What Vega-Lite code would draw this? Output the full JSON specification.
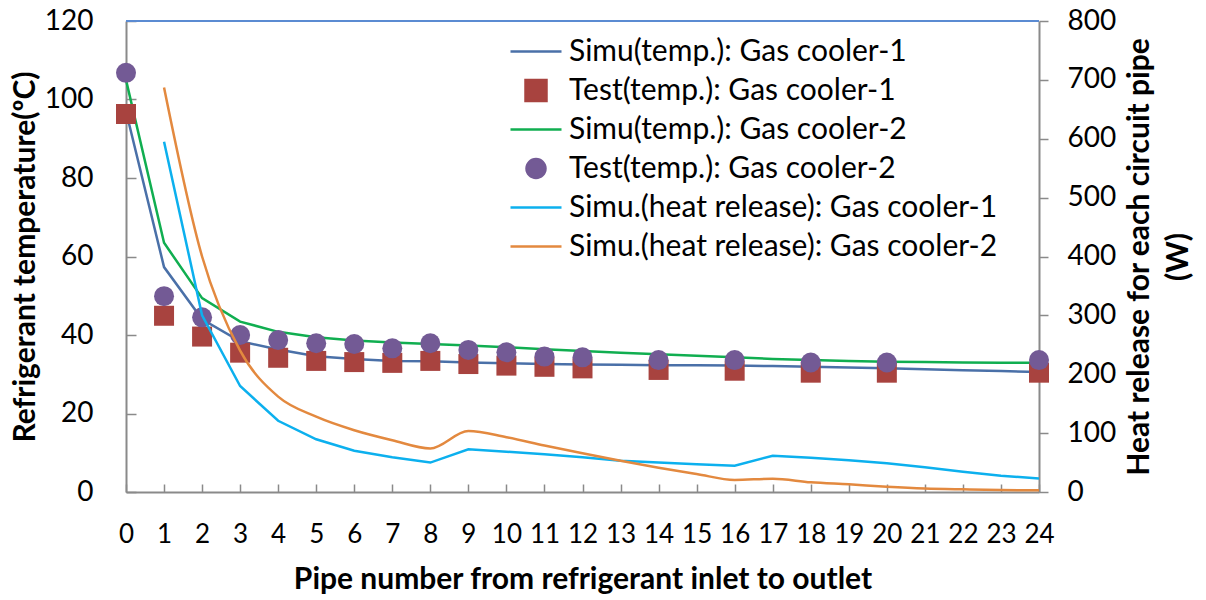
{
  "$schema": "https://vega.github.io/schema/vega-lite/v6.json",
  "autosize": {"type": "none"},
  "padding": {"left": 126, "top": 21, "right": 167, "bottom": 108},
  "width": 913,
  "height": 471,
  "background": "white",
  "config": {
    "view": {"stroke": null},
    "font": "Lato",
    "axis": {
      "domainColor": "#8a8a8a", "domainWidth": 2, "tickColor": "#8a8a8a", "tickWidth": 1.5,
      "labelFont": "Lato", "labelFontSize": 28, "labelColor": "#000000",
      "titleFont": "Lato", "titleFontSize": 30, "titleFontWeight": "bold", "titleColor": "#000000",
      "grid": false
    }
  },
  "datasets": {
    "topline": [{"x": 0, "x2": 24, "v": 120}],
    "simuT": [
      {"x": 0, "series": "Simu(temp.): Gas cooler-1", "v": 97},
      {"x": 1, "series": "Simu(temp.): Gas cooler-1", "v": 57.3},
      {"x": 2, "series": "Simu(temp.): Gas cooler-1", "v": 44},
      {"x": 3, "series": "Simu(temp.): Gas cooler-1", "v": 38.4},
      {"x": 4, "series": "Simu(temp.): Gas cooler-1", "v": 36.3},
      {"x": 5, "series": "Simu(temp.): Gas cooler-1", "v": 34.6},
      {"x": 6, "series": "Simu(temp.): Gas cooler-1", "v": 33.9},
      {"x": 7, "series": "Simu(temp.): Gas cooler-1", "v": 33.4},
      {"x": 8, "series": "Simu(temp.): Gas cooler-1", "v": 33.3},
      {"x": 9, "series": "Simu(temp.): Gas cooler-1", "v": 33.0},
      {"x": 10, "series": "Simu(temp.): Gas cooler-1", "v": 32.8},
      {"x": 11, "series": "Simu(temp.): Gas cooler-1", "v": 32.6},
      {"x": 12, "series": "Simu(temp.): Gas cooler-1", "v": 32.5},
      {"x": 13, "series": "Simu(temp.): Gas cooler-1", "v": 32.4},
      {"x": 14, "series": "Simu(temp.): Gas cooler-1", "v": 32.3},
      {"x": 15, "series": "Simu(temp.): Gas cooler-1", "v": 32.3},
      {"x": 16, "series": "Simu(temp.): Gas cooler-1", "v": 32.2},
      {"x": 17, "series": "Simu(temp.): Gas cooler-1", "v": 32.1},
      {"x": 18, "series": "Simu(temp.): Gas cooler-1", "v": 31.9},
      {"x": 19, "series": "Simu(temp.): Gas cooler-1", "v": 31.7},
      {"x": 20, "series": "Simu(temp.): Gas cooler-1", "v": 31.5},
      {"x": 21, "series": "Simu(temp.): Gas cooler-1", "v": 31.3},
      {"x": 22, "series": "Simu(temp.): Gas cooler-1", "v": 31.0},
      {"x": 23, "series": "Simu(temp.): Gas cooler-1", "v": 30.8},
      {"x": 24, "series": "Simu(temp.): Gas cooler-1", "v": 30.6},
      {"x": 0, "series": "Simu(temp.): Gas cooler-2", "v": 105},
      {"x": 1, "series": "Simu(temp.): Gas cooler-2", "v": 63.5},
      {"x": 2, "series": "Simu(temp.): Gas cooler-2", "v": 49.4},
      {"x": 3, "series": "Simu(temp.): Gas cooler-2", "v": 43.4},
      {"x": 4, "series": "Simu(temp.): Gas cooler-2", "v": 40.8},
      {"x": 5, "series": "Simu(temp.): Gas cooler-2", "v": 39.4},
      {"x": 6, "series": "Simu(temp.): Gas cooler-2", "v": 38.6},
      {"x": 7, "series": "Simu(temp.): Gas cooler-2", "v": 38.1},
      {"x": 8, "series": "Simu(temp.): Gas cooler-2", "v": 37.7},
      {"x": 9, "series": "Simu(temp.): Gas cooler-2", "v": 37.3},
      {"x": 10, "series": "Simu(temp.): Gas cooler-2", "v": 36.9},
      {"x": 11, "series": "Simu(temp.): Gas cooler-2", "v": 36.4},
      {"x": 12, "series": "Simu(temp.): Gas cooler-2", "v": 35.9},
      {"x": 13, "series": "Simu(temp.): Gas cooler-2", "v": 35.5},
      {"x": 14, "series": "Simu(temp.): Gas cooler-2", "v": 35.1},
      {"x": 15, "series": "Simu(temp.): Gas cooler-2", "v": 34.7},
      {"x": 16, "series": "Simu(temp.): Gas cooler-2", "v": 34.3},
      {"x": 17, "series": "Simu(temp.): Gas cooler-2", "v": 33.9},
      {"x": 18, "series": "Simu(temp.): Gas cooler-2", "v": 33.6},
      {"x": 19, "series": "Simu(temp.): Gas cooler-2", "v": 33.4},
      {"x": 20, "series": "Simu(temp.): Gas cooler-2", "v": 33.2},
      {"x": 21, "series": "Simu(temp.): Gas cooler-2", "v": 33.1},
      {"x": 22, "series": "Simu(temp.): Gas cooler-2", "v": 33.0},
      {"x": 23, "series": "Simu(temp.): Gas cooler-2", "v": 32.9},
      {"x": 24, "series": "Simu(temp.): Gas cooler-2", "v": 32.9}
    ],
    "testT": [
      {"x": 0, "series": "Test(temp.): Gas cooler-1", "v": 96.3},
      {"x": 1, "series": "Test(temp.): Gas cooler-1", "v": 44.9},
      {"x": 2, "series": "Test(temp.): Gas cooler-1", "v": 39.6},
      {"x": 3, "series": "Test(temp.): Gas cooler-1", "v": 35.5},
      {"x": 4, "series": "Test(temp.): Gas cooler-1", "v": 34.2},
      {"x": 5, "series": "Test(temp.): Gas cooler-1", "v": 33.4},
      {"x": 6, "series": "Test(temp.): Gas cooler-1", "v": 33.1},
      {"x": 7, "series": "Test(temp.): Gas cooler-1", "v": 32.9},
      {"x": 8, "series": "Test(temp.): Gas cooler-1", "v": 33.4},
      {"x": 9, "series": "Test(temp.): Gas cooler-1", "v": 32.6},
      {"x": 10, "series": "Test(temp.): Gas cooler-1", "v": 32.2},
      {"x": 11, "series": "Test(temp.): Gas cooler-1", "v": 31.9},
      {"x": 12, "series": "Test(temp.): Gas cooler-1", "v": 31.5},
      {"x": 14, "series": "Test(temp.): Gas cooler-1", "v": 31.1},
      {"x": 16, "series": "Test(temp.): Gas cooler-1", "v": 30.9},
      {"x": 18, "series": "Test(temp.): Gas cooler-1", "v": 30.4},
      {"x": 20, "series": "Test(temp.): Gas cooler-1", "v": 30.4},
      {"x": 24, "series": "Test(temp.): Gas cooler-1", "v": 30.4},
      {"x": 0, "series": "Test(temp.): Gas cooler-2", "v": 106.8},
      {"x": 1, "series": "Test(temp.): Gas cooler-2", "v": 49.9},
      {"x": 2, "series": "Test(temp.): Gas cooler-2", "v": 44.5},
      {"x": 3, "series": "Test(temp.): Gas cooler-2", "v": 40.0},
      {"x": 4, "series": "Test(temp.): Gas cooler-2", "v": 38.7},
      {"x": 5, "series": "Test(temp.): Gas cooler-2", "v": 37.9},
      {"x": 6, "series": "Test(temp.): Gas cooler-2", "v": 37.7},
      {"x": 7, "series": "Test(temp.): Gas cooler-2", "v": 36.6},
      {"x": 8, "series": "Test(temp.): Gas cooler-2", "v": 37.9},
      {"x": 9, "series": "Test(temp.): Gas cooler-2", "v": 36.2},
      {"x": 10, "series": "Test(temp.): Gas cooler-2", "v": 35.6},
      {"x": 11, "series": "Test(temp.): Gas cooler-2", "v": 34.5},
      {"x": 12, "series": "Test(temp.): Gas cooler-2", "v": 34.3},
      {"x": 14, "series": "Test(temp.): Gas cooler-2", "v": 33.6},
      {"x": 16, "series": "Test(temp.): Gas cooler-2", "v": 33.6},
      {"x": 18, "series": "Test(temp.): Gas cooler-2", "v": 33.0},
      {"x": 20, "series": "Test(temp.): Gas cooler-2", "v": 33.0},
      {"x": 24, "series": "Test(temp.): Gas cooler-2", "v": 33.6}
    ],
    "heat1": [
      {"x": 1, "series": "Simu.(heat release): Gas cooler-1", "v": 595},
      {"x": 2, "series": "Simu.(heat release): Gas cooler-1", "v": 300},
      {"x": 3, "series": "Simu.(heat release): Gas cooler-1", "v": 180},
      {"x": 4, "series": "Simu.(heat release): Gas cooler-1", "v": 121},
      {"x": 5, "series": "Simu.(heat release): Gas cooler-1", "v": 89.5},
      {"x": 6, "series": "Simu.(heat release): Gas cooler-1", "v": 70},
      {"x": 7, "series": "Simu.(heat release): Gas cooler-1", "v": 59},
      {"x": 8, "series": "Simu.(heat release): Gas cooler-1", "v": 50},
      {"x": 9, "series": "Simu.(heat release): Gas cooler-1", "v": 72.5},
      {"x": 10, "series": "Simu.(heat release): Gas cooler-1", "v": 68.5},
      {"x": 11, "series": "Simu.(heat release): Gas cooler-1", "v": 64},
      {"x": 12, "series": "Simu.(heat release): Gas cooler-1", "v": 59},
      {"x": 13, "series": "Simu.(heat release): Gas cooler-1", "v": 53},
      {"x": 14, "series": "Simu.(heat release): Gas cooler-1", "v": 50},
      {"x": 15, "series": "Simu.(heat release): Gas cooler-1", "v": 47},
      {"x": 16, "series": "Simu.(heat release): Gas cooler-1", "v": 44.7},
      {"x": 17, "series": "Simu.(heat release): Gas cooler-1", "v": 61.7},
      {"x": 18, "series": "Simu.(heat release): Gas cooler-1", "v": 58.3},
      {"x": 19, "series": "Simu.(heat release): Gas cooler-1", "v": 54},
      {"x": 20, "series": "Simu.(heat release): Gas cooler-1", "v": 48.7},
      {"x": 21, "series": "Simu.(heat release): Gas cooler-1", "v": 42},
      {"x": 22, "series": "Simu.(heat release): Gas cooler-1", "v": 34.5},
      {"x": 23, "series": "Simu.(heat release): Gas cooler-1", "v": 27.7},
      {"x": 24, "series": "Simu.(heat release): Gas cooler-1", "v": 23}
    ],
    "heat2": [
      {"x": 1, "series": "Simu.(heat release):  Gas cooler-2", "v": 687},
      {"x": 2, "series": "Simu.(heat release):  Gas cooler-2", "v": 400},
      {"x": 3, "series": "Simu.(heat release):  Gas cooler-2", "v": 240},
      {"x": 4, "series": "Simu.(heat release):  Gas cooler-2", "v": 162},
      {"x": 5, "series": "Simu.(heat release):  Gas cooler-2", "v": 128},
      {"x": 6, "series": "Simu.(heat release):  Gas cooler-2", "v": 105},
      {"x": 7, "series": "Simu.(heat release):  Gas cooler-2", "v": 88},
      {"x": 8, "series": "Simu.(heat release):  Gas cooler-2", "v": 74},
      {"x": 9, "series": "Simu.(heat release):  Gas cooler-2", "v": 103.6},
      {"x": 10, "series": "Simu.(heat release):  Gas cooler-2", "v": 93},
      {"x": 11, "series": "Simu.(heat release):  Gas cooler-2", "v": 79},
      {"x": 12, "series": "Simu.(heat release):  Gas cooler-2", "v": 65.7},
      {"x": 13, "series": "Simu.(heat release):  Gas cooler-2", "v": 53},
      {"x": 14, "series": "Simu.(heat release):  Gas cooler-2", "v": 41.3},
      {"x": 15, "series": "Simu.(heat release):  Gas cooler-2", "v": 30.6},
      {"x": 16, "series": "Simu.(heat release):  Gas cooler-2", "v": 20.4},
      {"x": 17, "series": "Simu.(heat release):  Gas cooler-2", "v": 22.6},
      {"x": 18, "series": "Simu.(heat release):  Gas cooler-2", "v": 16.4},
      {"x": 19, "series": "Simu.(heat release):  Gas cooler-2", "v": 13},
      {"x": 20, "series": "Simu.(heat release):  Gas cooler-2", "v": 9},
      {"x": 21, "series": "Simu.(heat release):  Gas cooler-2", "v": 6},
      {"x": 22, "series": "Simu.(heat release):  Gas cooler-2", "v": 4.5},
      {"x": 23, "series": "Simu.(heat release):  Gas cooler-2", "v": 3.4},
      {"x": 24, "series": "Simu.(heat release):  Gas cooler-2", "v": 2.8}
    ]
  },
  "encoding": {
    "x": {
      "field": "x", "type": "quantitative",
      "scale": {"domain": [0, 24], "nice": false, "zero": false},
      "axis": {
        "title": "Pipe number from refrigerant  inlet to outlet",
        "values": [0,1,2,3,4,5,6,7,8,9,10,11,12,13,14,15,16,17,18,19,20,21,22,23,24],
        "labelFontSize": 26, "tickSize": -8, "labelPadding": 37, "titlePadding": 17, "labelFlush": false, "labelOverlap": false
      }
    }
  },
  "layer": [
    {
      "encoding": {
        "y": {
          "field": "v", "type": "quantitative",
          "scale": {"domain": [0, 120], "nice": false},
          "axis": {
            "orient": "left", "title": "Refrigerant temperature(ºC)",
            "values": [0, 20, 40, 60, 80, 100, 120],
            "tickSize": -10, "labelPadding": 43, "titlePadding": 4
          }
        }
      },
      "layer": [
        {
          "data": {"name": "topline"},
          "mark": {"type": "rule", "color": "#5b8bd2", "strokeWidth": 2},
          "encoding": {"y": {"field": "v", "type": "quantitative"}, "x": {"field": "x", "type": "quantitative"}, "x2": {"field": "x2"}}
        },
        {
          "data": {"name": "simuT"},
          "mark": {"type": "line", "strokeWidth": 2.5},
          "encoding": {
            "color": {
              "field": "series", "type": "nominal",
              "scale": {
                "domain": ["Simu(temp.): Gas cooler-1", "Test(temp.): Gas cooler-1", "Simu(temp.): Gas cooler-2", "Test(temp.): Gas cooler-2", "Simu.(heat release): Gas cooler-1", "Simu.(heat release):  Gas cooler-2"],
                "range": ["#4a70a8", "#a8433f", "#10ae50", "#735a95", "#0cb0ee", "#e3893f"]
              },
              "legend": {
                "orient": "none", "legendX": 383, "legendY": 11, "title": null, "padding": 0,
                "labelFont": "Lato", "labelFontSize": 30, "labelColor": "#000000", "labelLimit": 700,
                "symbolSize": 2601, "symbolStrokeWidth": 2.5, "labelOffset": 6, "rowPadding": 0, "clipHeight": 39,
                "symbolType": "stroke",
                "encode": {
                  "symbols": {
                    "update": {
                      "shape": {"signal": "datum.value == 'Test(temp.): Gas cooler-1' ? 'square' : datum.value == 'Test(temp.): Gas cooler-2' ? 'circle' : 'stroke'"},
                      "size": {"signal": "datum.value == 'Test(temp.): Gas cooler-1' ? 441 : datum.value == 'Test(temp.): Gas cooler-2' ? 361 : 2601"},
                      "fill": {"signal": "datum.value == 'Test(temp.): Gas cooler-1' ? '#a8433f' : datum.value == 'Test(temp.): Gas cooler-2' ? '#735a95' : 'transparent'"}
                    }
                  }
                }
              }
            }
          }
        },
        {
          "data": {"name": "testT"},
          "mark": {"type": "point", "filled": true, "size": 400, "opacity": 1},
          "encoding": {
            "color": {"field": "series", "type": "nominal"},
            "shape": {
              "field": "series", "type": "nominal",
              "scale": {"domain": ["Test(temp.): Gas cooler-1", "Test(temp.): Gas cooler-2"], "range": ["square", "circle"]},
              "legend": null
            }
          }
        }
      ]
    },
    {
      "encoding": {
        "y": {
          "field": "v", "type": "quantitative",
          "scale": {"domain": [0, 800], "nice": false},
          "axis": {
            "orient": "right", "title": ["Heat release for each circuit pipe", "(W)"],
            "values": [0, 100, 200, 300, 400, 500, 600, 700, 800],
            "tickSize": 9, "labelPadding": 19, "titlePadding": 0, "titleAngle": -90, "titleLineHeight": 39
          }
        }
      },
      "layer": [
        {
          "data": {"name": "heat1"},
          "mark": {"type": "line", "strokeWidth": 2.5},
          "encoding": {"color": {"field": "series", "type": "nominal"}}
        },
        {
          "data": {"name": "heat2"},
          "mark": {"type": "line", "strokeWidth": 2.5, "interpolate": "monotone"},
          "encoding": {"color": {"field": "series", "type": "nominal"}}
        }
      ]
    }
  ],
  "resolve": {"scale": {"y": "independent"}}
}
